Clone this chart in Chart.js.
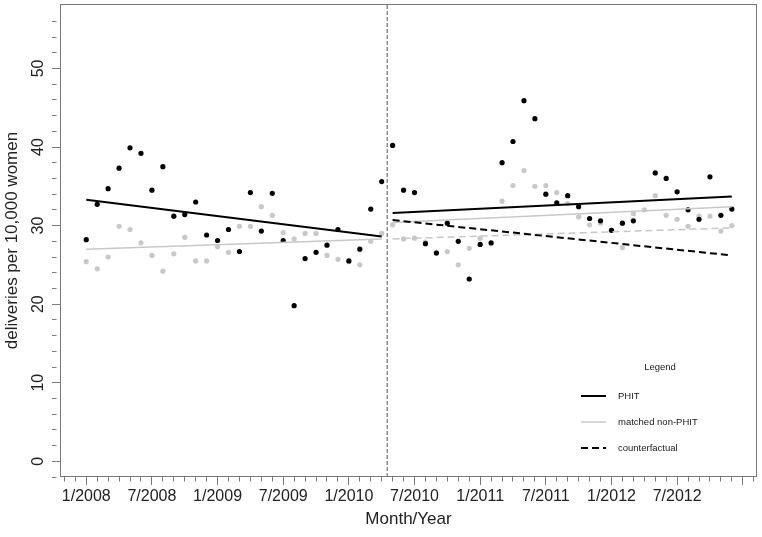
<!DOCTYPE html>
<html>
<head>
<meta charset="utf-8">
<script src="https://cdn.jsdelivr.net/npm/chart.js@4"></script>
<style>
  html, body { margin: 0; padding: 0; background: #fff; }
  canvas { display: block; }
</style>
</head>
<body>
<canvas id="chart" width="762" height="537"></canvas>
<script>
// month index 0 = 1/2008 ... 59 = 12/2012
const tickLabels = ['1/2008', '7/2008', '1/2009', '7/2009', '1/2010', '7/2010', '1/2011', '7/2011', '1/2012', '7/2012']

const phit = [
  28.2, 32.7, 34.7, 37.3, 39.9, 39.2, 34.5, 37.5, 31.2, 31.4, 33.0, 28.8,
  28.1, 29.5, 26.7, 34.2, 29.3, 34.1, 28.1, 19.8, 25.8, 26.6, 27.5, 29.5,
  25.5, 27.0, 32.1, 35.6, 40.2, 34.5, 34.2, 27.7, 26.5, 30.3, 28.0, 23.2,
  27.6, 27.8, 38.0, 40.7, 45.9, 43.6, 34.0, 32.9, 33.8, 32.4, 30.9, 30.6,
  29.4, 30.3, 30.6, null, 36.7, 36.0, 34.3, 32.0, 30.8, 36.2, 31.3, 32.1,
]
const nonPhit = [
  25.4, 24.5, 26.0, 29.9, 29.5, 27.8, 26.2, 24.2, 26.4, 28.5, 25.5, 25.5,
  27.3, 26.6, 29.9, 29.9, 32.4, 31.3, 29.1, 28.3, 29.0, 29.0, 26.2, 25.7,
  25.4, 25.0, 28.0, 29.0, 30.1, 28.3, 28.4, 27.9, 26.6, 26.7, 25.0, 27.1,
  28.4, 27.7, 33.1, 35.1, 37.0, 35.0, 35.1, 34.2, 32.8, 31.1, 30.1, 30.3,
  29.4, 27.2, 31.5, 32.0, 33.8, 31.3, 30.8, 29.9, 31.2, 31.2, 29.3, 30.0,
]

// fitted segments: [start month, end month] and values at both ends
const preMonths = [0, 27]
const postMonths = [28, 59]
const phitPre = [33.3, 28.6]
const phitPost = [31.6, 33.7]
const nonPhitPre = [27.0, 28.3]
const nonPhitPost = [30.4, 32.4]
const counterfactual = [30.7, 26.2]
const nonPhitCounterfactual = [28.3, 29.7]
const interventionMonth = 27.5

const yMin = -2
const yMax = 58.2
const yLabelValues = [0, 10, 20, 30, 40, 50]

const FONT = "'Liberation Sans', Arial, sans-serif"
const BLACK = '#000000'
const GREY = '#c8c8c8'
const FRAME = '#7a7a7a'
const TEXT = '#222222'

const points = (arr) => arr.map((v, i) => ({ x: i, y: v }))
const segment = (months, vals) => months.map((m, i) => ({ x: m, y: vals[i] }))

const lineSet = (data, color, width, dash, order) => ({
  type: 'line',
  data,
  borderColor: color,
  borderWidth: width,
  borderDash: dash,
  pointRadius: 0,
  fill: false,
  tension: 0,
  order,
})

const frame = {
  id: 'frame',
  afterDraw(chart) {
    const { ctx, chartArea: a } = chart
    ctx.save()
    ctx.strokeStyle = FRAME
    ctx.lineWidth = 1
    ctx.strokeRect(Math.round(a.left) + 0.5, Math.round(a.top) + 0.5, Math.round(a.width) - 1, Math.round(a.height) - 1)
    ctx.restore()
  },
}

// R-style y labels, rotated to read upwards
const yLabels = {
  id: 'yLabels',
  afterDraw(chart) {
    const { ctx, chartArea: a, scales } = chart
    ctx.save()
    ctx.fillStyle = TEXT
    ctx.font = '16px ' + FONT
    ctx.textAlign = 'center'
    ctx.textBaseline = 'alphabetic'
    yLabelValues.forEach((v) => {
      ctx.save()
      ctx.translate(a.left - 17, scales.y.getPixelForValue(v))
      ctx.rotate(-Math.PI / 2)
      ctx.fillText(String(v), 0, 0)
      ctx.restore()
    })
    ctx.restore()
  },
}

const legendBox = {
  id: 'legendBox',
  afterDraw(chart) {
    const { ctx, chartArea: a } = chart
    const x0 = a.right - 176
    const y0 = a.bottom - 110
    ctx.save()
    ctx.font = '9.5px ' + FONT
    ctx.fillStyle = TEXT
    ctx.textBaseline = 'middle'
    ctx.textAlign = 'center'
    ctx.fillText('Legend', x0 + 79, y0)
    const items = [
      ['PHIT', BLACK, 2, []],
      ['matched non-PHIT', GREY, 1.5, []],
      ['counterfactual', BLACK, 2, [7, 4]],
    ]
    items.forEach(([label, color, width, dash], i) => {
      const y = y0 + 29 + i * 26
      ctx.beginPath()
      ctx.setLineDash(dash)
      ctx.strokeStyle = color
      ctx.lineWidth = width
      ctx.moveTo(x0, y)
      ctx.lineTo(x0 + 25, y)
      ctx.stroke()
      ctx.setLineDash([])
      ctx.textAlign = 'left'
      ctx.fillText(label, x0 + 37, y)
    })
    ctx.restore()
  },
}

new Chart(document.getElementById('chart'), {
  type: 'scatter',
  data: {
    datasets: [
      lineSet(segment(preMonths, phitPre), BLACK, 2, [], 0),
      lineSet(segment(postMonths, phitPost), BLACK, 2, [], 0),
      lineSet(segment(postMonths, counterfactual), BLACK, 2, [7, 4], 0),
      lineSet(segment(preMonths, nonPhitPre), GREY, 1.5, [], 1),
      lineSet(segment(postMonths, nonPhitPost), GREY, 1.5, [], 1),
      lineSet(segment(postMonths, nonPhitCounterfactual), GREY, 1.5, [7, 4], 1),
      lineSet([{ x: interventionMonth, y: yMin }, { x: interventionMonth, y: yMax }], '#555555', 1, [4, 2], 1),
      {
        label: 'PHIT',
        data: points(phit),
        pointRadius: 2.6,
        pointBorderWidth: 0,
        backgroundColor: BLACK,
        order: 2,
      },
      {
        label: 'matched non-PHIT',
        data: points(nonPhit),
        pointRadius: 2.6,
        pointBorderWidth: 0,
        backgroundColor: GREY,
        order: 3,
      },
    ],
  },
  options: {
    responsive: false,
    animation: false,
    events: [],
    layout: { padding: { top: 3, right: 5, left: 0, bottom: 0 } },
    plugins: {
      legend: { display: false },
      tooltip: { enabled: false },
    },
    scales: {
      x: {
        type: 'linear',
        min: -2.4,
        max: 61.3,
        afterBuildTicks: (s) => {
          const t = []
          for (let m = -2; m <= 61; m++) t.push({ value: m })
          s.ticks = t
        },
        afterFit: (s) => { s.height = 60 },
        border: { display: false },
        grid: {
          drawOnChartArea: false,
          drawTicks: true,
          tickLength: 8,
          tickColor: FRAME,
          tickWidth: 1,
          tickBorderDash: (c) => (c.tick && c.tick.value % 6 === 0 ? [] : [4.5, 20]),
        },
        ticks: {
          autoSkip: false,
          maxRotation: 0,
          padding: 2,
          color: TEXT,
          font: { family: FONT, size: 16 },
          callback: (v) => (v >= 0 && v % 6 === 0 && tickLabels[v / 6]) || '',
        },
        title: {
          display: true,
          text: 'Month/Year',
          color: TEXT,
          font: { family: FONT, size: 17 },
          padding: { top: 0, bottom: 7 },
        },
      },
      y: {
        min: yMin,
        max: yMax,
        afterBuildTicks: (s) => {
          const t = []
          for (let v = -2; v <= 56; v += 2) t.push({ value: v })
          s.ticks = t
        },
        afterFit: (s) => { s.width = 60 },
        border: { display: false },
        grid: {
          drawOnChartArea: false,
          drawTicks: true,
          tickLength: 8,
          tickColor: FRAME,
          tickWidth: 1,
          tickBorderDash: (c) => (c.tick && c.tick.value % 10 === 0 ? [] : [4.5, 20]),
        },
        ticks: { display: false },
        title: {
          display: true,
          text: 'deliveries per 10,000 women',
          color: TEXT,
          font: { family: FONT, size: 17 },
          padding: { top: 2, bottom: 0 },
        },
      },
    },
  },
  plugins: [frame, yLabels, legendBox],
})
</script>
</body>
</html>
